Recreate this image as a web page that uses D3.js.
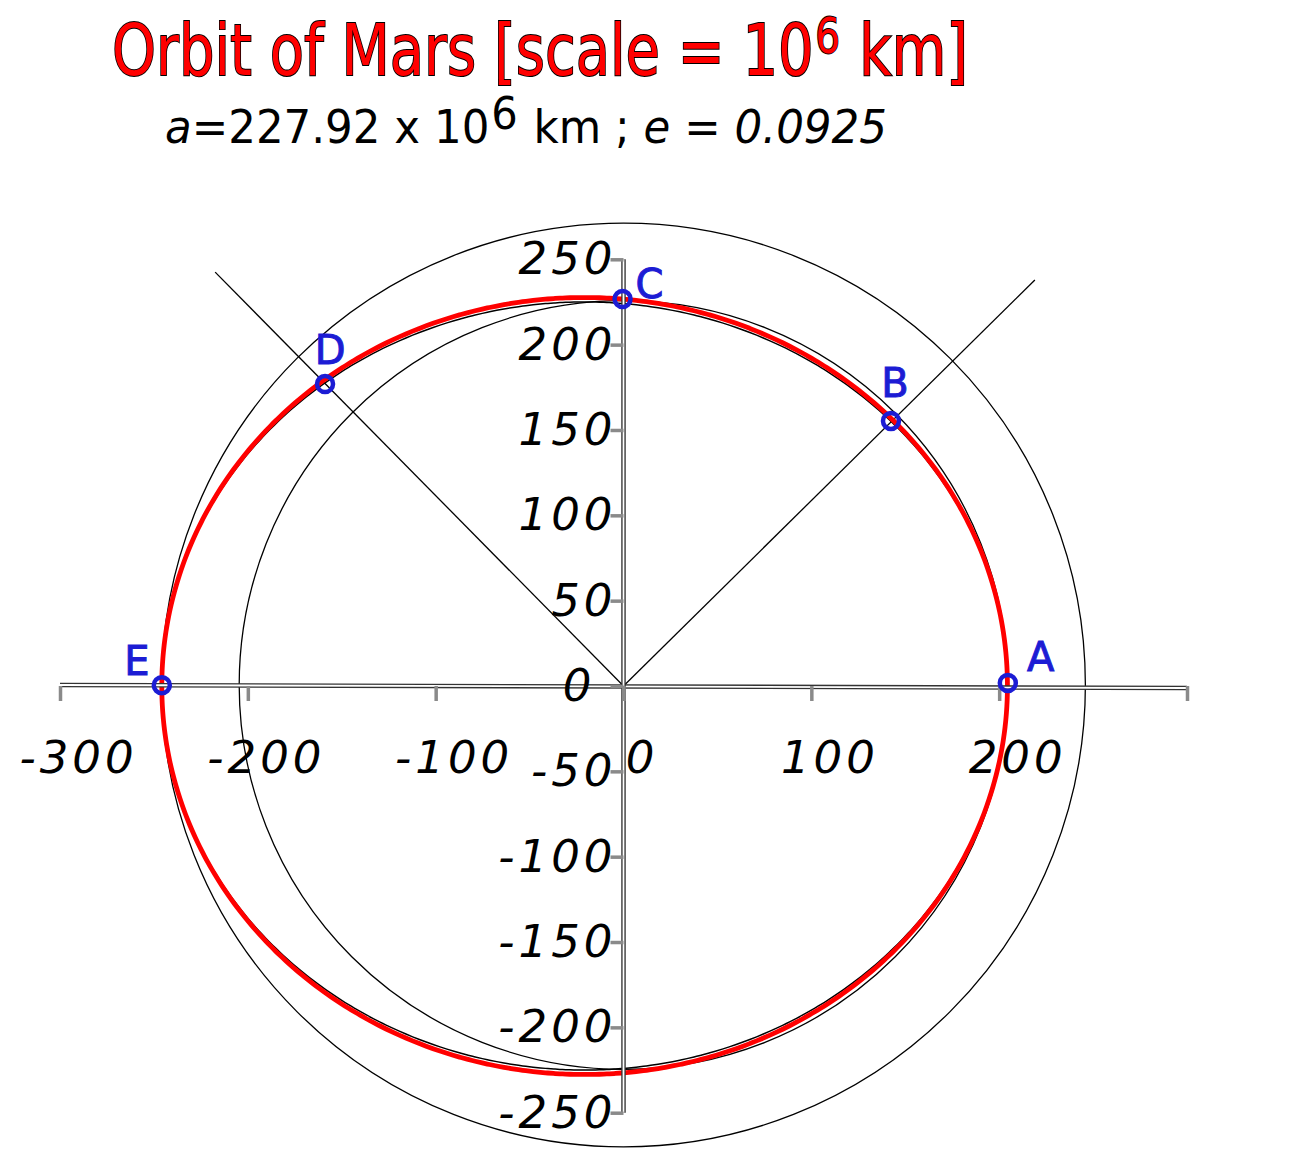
<!DOCTYPE html>
<html>
<head>
<meta charset="utf-8">
<script src="https://cdn.jsdelivr.net/npm/d3@7"></script>
<style>
  html, body { margin: 0; padding: 0; background: #fff; }
  svg { display: block; }
  text { white-space: pre; }
</style>
</head>
<body>
<svg id="chart" width="1302" height="1166"></svg>
<script>
// ---- data (values in 10^6 km, as plotted) ----
const xTickValues = [-300, -200, -100, 0, 100, 200, 300];
const xTickLabelled = [-300, -200, -100, 0, 100, 200];
const yTickValues = [-250, -200, -150, -100, -50, 0, 50, 100, 150, 200, 250];
const pointNames = ["A", "B", "C", "D", "E"];
const pointX = [204.6, 142.4, -0.5, -158.9, -245.8];
const pointY = [1.8, 155.3, 226.7, 176.9, 0.5];
const rayEndX = [219, -217.4];
const rayEndY = [237.9, 242.5];
const circleNames = ["perihelion", "aphelion"];
const circleRadius = [204.6, 245.9];
const orbitPerihelion = 204.4;     // right end of the orbit (A)
const orbitAphelion = 245.8;       // left end of the orbit (E)
const orbitSemiMinorRed = 227.6;   // drawn red orbit
const orbitSemiMinorBlack = 225.0; // thin black orbit

// ---- layout ----
const svg = d3.select("#chart");
const x = d3.scaleLinear().domain([-300, 300]).range([60, 1187]);
const y = d3.scaleLinear().domain([-250, 250]).range([1112.7, 259.3]);
const labelOffset = { A: [33, -12], B: [4, -24], C: [27, -1], D: [5, -20], E: [-25, -10] };
const labelFont = "'DejaVu Sans', sans-serif";
const blue = "#1c1cd4";

// run of text pieces laid side by side, then fitted to a width
function textRun(pieces, left, baseline, width, common) {
  const g = svg.append("g");
  const inner = g.append("g");
  let cx = 0;
  pieces.forEach(p => {
    const t = inner.append("text")
      .attr("x", cx + (p.dx || 0)).attr("y", p.dy || 0)
      .attr("xml:space", "preserve")
      .style("white-space", "pre")
      .attr("font-family", labelFont)
      .attr("font-size", p.size)
      .attr("font-style", p.italic ? "italic" : "normal")
      .text(p.text);
    common(t);
    cx += (p.dx || 0) + t.node().getComputedTextLength();
  });
  const sx = width / cx;
  inner.attr("transform", `translate(${left},${baseline}) scale(${sx},1)`);
  return g;
}

// title
textRun([
  { text: "Orbit of Mars [scale = 10", size: 72 },
  { text: "6", size: 50, dy: -22, dx: 2 },
  { text: " km]", size: 72, dx: 2 }
], 112, 75, 856, t => t
  .attr("fill", "#ff0000")
  .attr("stroke", "#000").attr("stroke-width", 2)
  .attr("paint-order", "stroke"));

// subtitle
textRun([
  { text: "a", size: 46, italic: true },
  { text: "=227.92 x 10", size: 46 },
  { text: "6", size: 44, dy: -14, dx: 2 },
  { text: " km ; ", size: 46, dx: 2 },
  { text: "e", size: 46, italic: true },
  { text: " = ", size: 46 },
  { text: "0.0925", size: 46, italic: true }
], 165, 143, 722, t => t.attr("fill", "#000"));

// reference circles, round in pixel space
const pxPerUnit = x(1) - x(0);
svg.append("g").selectAll("circle").data(circleNames).join("circle")
  .attr("cx", x(0)).attr("cy", y(0) - 1)
  .attr("r", (d, i) => circleRadius[i] * pxPerUnit)
  .attr("fill", "none").attr("stroke", "#000").attr("stroke-width", 1.3);

// rays
svg.append("g").selectAll("line").data(rayEndX).join("line")
  .attr("x1", x(0)).attr("y1", y(0))
  .attr("x2", (d, i) => x(rayEndX[i])).attr("y2", (d, i) => y(rayEndY[i]))
  .attr("stroke", "#000").attr("stroke-width", 1.3);

// orbit ellipses (focus at origin)
const semiMajor = (orbitPerihelion + orbitAphelion) / 2;
const centerX = (orbitPerihelion - orbitAphelion) / 2;
const angles = d3.range(0, 360, 1);
function orbitPath(semiMinor) {
  return d3.line()
    .x(t => x(centerX + semiMajor * Math.cos(t * Math.PI / 180)))
    .y(t => y(semiMinor * Math.sin(t * Math.PI / 180)))
    .curve(d3.curveCardinalClosed)(angles);
}
svg.append("path").attr("d", orbitPath(orbitSemiMinorBlack))
  .attr("fill", "none").attr("stroke", "#000").attr("stroke-width", 1.5);
svg.append("path").attr("d", orbitPath(orbitSemiMinorRed))
  .attr("fill", "none").attr("stroke", "#ff0000").attr("stroke-width", 4.8);

// axis lines (double stroke)
function doubleLine(x1, y1, x2, y2) {
  svg.append("line").attr("x1", x1).attr("y1", y1).attr("x2", x2).attr("y2", y2)
    .attr("stroke", "#333").attr("stroke-width", 4.5);
  svg.append("line").attr("x1", x1).attr("y1", y1).attr("x2", x2).attr("y2", y2)
    .attr("stroke", "#fff").attr("stroke-width", 1.8);
}
doubleLine(x(-300), y(0) - 1, x(300), y(0) + 2);
doubleLine(x(0), y(250), x(0), y(-250));

const xAxis = svg.append("g").attr("transform", `translate(0,${y(0)})`)
  .call(d3.axisBottom(x).tickValues(xTickValues).tickSize(15).tickPadding(40));
const yAxis = svg.append("g").attr("transform", `translate(${x(0)},0)`)
  .call(d3.axisLeft(y).tickValues(yTickValues).tickSize(13).tickPadding(1));
[xAxis, yAxis].forEach(g => {
  g.select(".domain").remove();
  g.selectAll(".tick line").attr("stroke", "#8a8a8a").attr("stroke-width", 3.5);
  g.selectAll(".tick text")
    .attr("fill", "#000")
    .attr("font-family", labelFont)
    .attr("font-style", "italic")
    .attr("font-size", 45)
    .attr("letter-spacing", 4)
    .text(d => d < 0 ? "-" + Math.abs(d) : String(d));
});
xAxis.selectAll(".tick text")
  .attr("dx", 18)
  .text(d => xTickLabelled.includes(d) ? (d < 0 ? "-" + Math.abs(d) : String(d)) : "");
yAxis.selectAll(".tick text").attr("dx", d => d === 0 ? -14 : 7);

// points
const pts = svg.append("g");
pts.selectAll("circle").data(pointNames).join("circle")
  .attr("cx", (d, i) => x(pointX[i])).attr("cy", (d, i) => y(pointY[i]))
  .attr("r", 8)
  .attr("fill", "none").attr("stroke", blue).attr("stroke-width", 4.5);
pts.selectAll("text").data(pointNames).join("text")
  .attr("x", (d, i) => x(pointX[i]) + labelOffset[d][0])
  .attr("y", (d, i) => y(pointY[i]) + labelOffset[d][1])
  .attr("text-anchor", "middle")
  .attr("font-family", labelFont)
  .attr("font-size", 40)
  .attr("fill", blue)
  .attr("stroke", blue).attr("stroke-width", 1)
  .text(d => d);
</script>
</body>
</html>
